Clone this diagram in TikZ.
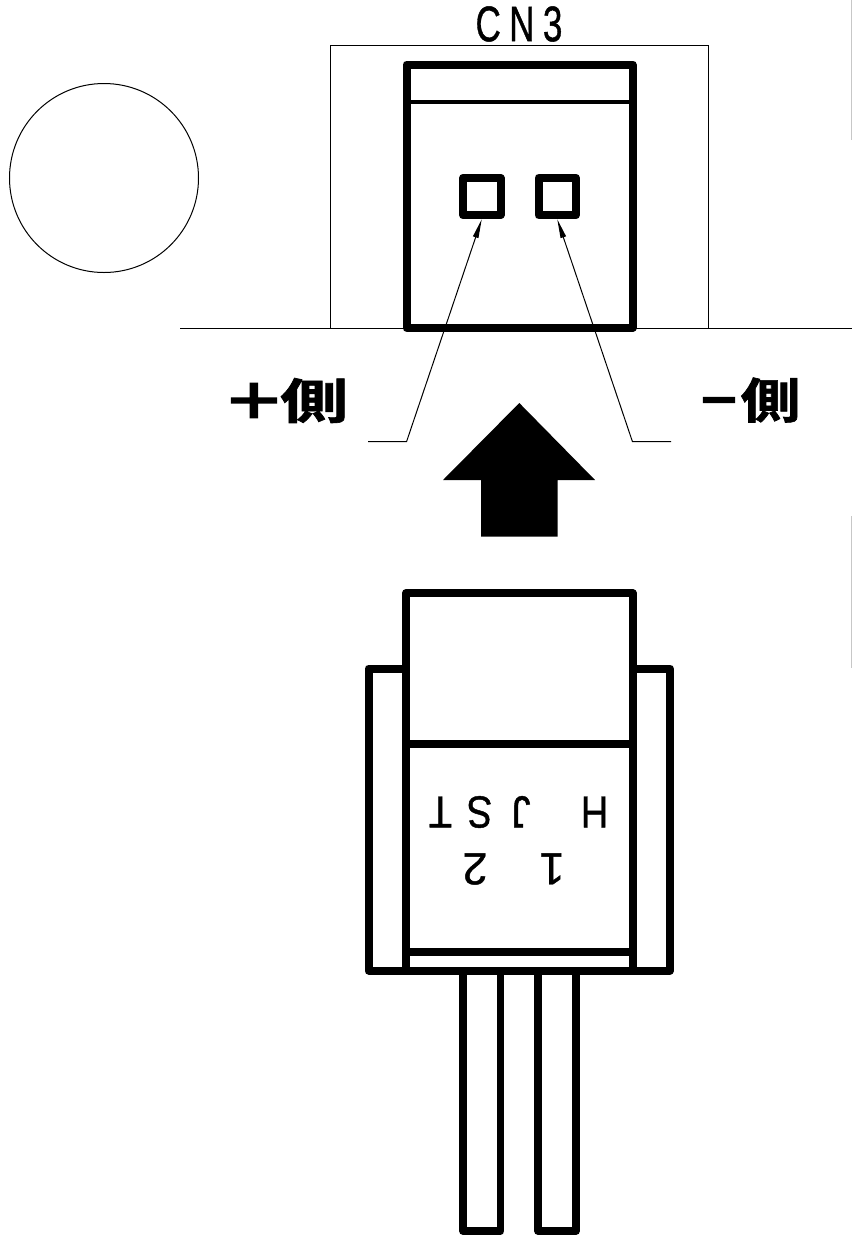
\documentclass[tikz,border=0pt]{standalone}
\usepackage{fontspec}
\usetikzlibrary{arrows.meta}
\setmainfont{Liberation Sans}
\newfontfamily\markfont[FakeBold=1]{Liberation Sans}
\newfontfamily\cjk[FakeBold=1.2]{Noto Sans CJK JP Bold}
\newfontfamily\cjkheavy[FakeBold=3.2]{Noto Sans CJK JP Bold}
\tikzset{
  thin line/.style={draw=black,line width=1pt},
  thick line/.style={draw=black,line width=8pt,line join=round},
  lead line/.style={draw=black,line width=7.5pt,line join=round},
  mid line/.style={draw=black,line width=4.5pt},
  terminal/.style={draw=black,line width=8pt,line join=round,rectangle,inner sep=0pt,outer sep=4pt,fill=white},
  leader/.style={draw=black,line width=1pt,-{Triangle[length=19pt,width=5.5pt]}},
  edge mark/.style={draw=black!22,line width=1.2pt},
  mark text/.style={inner sep=0pt,font=\markfont\fontsize{50}{50}\selectfont,xscale=.7,transform shape},
}
\begin{document}
\begin{tikzpicture}[x=1pt,y=-1pt]
\useasboundingbox (0,0) rectangle (852,1235);
\fill[white] (0,0) rectangle (852,1235);
% faint edges
\draw[edge mark] (851.3,0) -- (851.3,140);
\draw[edge mark] (851.3,516) -- (851.3,668);
% circle
\draw[thin line] (104,178) circle[radius=94.5];
% panel
\draw[thin line] (180,328.5) -- (852,328.5);
\draw[thin line] (330.5,328.5) -- (330.5,45.5) -- (708,45.5) -- (708,328.5);
% socket
\draw[thick line,fill=white] (406.5,64.5) rectangle (632.5,328);
\draw[mid line] (406.5,102) -- (632.5,102);
\node[terminal,minimum width=37.5pt,minimum height=37.5pt] (termL) at (481.75,196.5) {};
\node[terminal,minimum width=37.5pt,minimum height=37.5pt] (termR) at (557.25,196.5) {};
\node[mark text] (cn) at (519,24) {C\hspace{12pt}N\hspace{12pt}3};
% leaders
\coordinate (lA) at (368,441.5);
\coordinate (lB) at (406.6,441.5);
\coordinate (rA) at (671,441.5);
\coordinate (rB) at (632.4,441.5);
\draw[leader] (lA) -- (lB) -- (termL.south);
\draw[leader] (rA) -- (rB) -- (termR.south);
% labels
\node[inner sep=0pt,anchor=center] (plus) at (285.5,400.5) {\fontsize{48}{48}\selectfont{\cjkheavy\scalebox{1.3}[1]{＋}}\hspace{-5pt}{\cjk\scalebox{1.42}[1]{側}}};
\node[inner sep=0pt,anchor=center] (minus) at (749,400) {\fontsize{48}{48}\selectfont{\cjkheavy\scalebox{.9}[1]{－}}\hspace{0pt}{\cjk\scalebox{1.25}[1]{側}}};
% big arrow
\fill[black] (519.3,403) -- (595,480) -- (557.6,480) -- (557.6,536.7) -- (481,536.7) -- (481,480) -- (443,480) -- cycle;
% plug
\draw[thick line] (368.5,668.5) rectangle (670,970.5);
\draw[thick line,fill=white] (406,970.5) -- (406,593) -- (632.5,593) -- (632.5,970.5) -- cycle;
\draw[thick line] (406,744) -- (632.5,744);
\draw[thick line] (406,951.7) -- (632.5,951.7);
\node[inner sep=0pt,rotate=180,font=\markfont\fontsize{45}{45}\selectfont,xscale=.84,transform shape] (jst) at (518.5,812) {H\hspace{60pt}J\hspace{23pt}S\hspace{18pt}T};
\node[inner sep=0pt,rotate=180,font=\markfont\fontsize{45}{45}\selectfont,transform shape] (pins) at (513.5,869) {1\hspace{52pt}2};
% leads
\draw[lead line] (463,974) -- (463,1231) -- (500.5,1231) -- (500.5,974);
\draw[lead line] (538,974) -- (538,1231) -- (576,1231) -- (576,974);
\end{tikzpicture}
\end{document}
